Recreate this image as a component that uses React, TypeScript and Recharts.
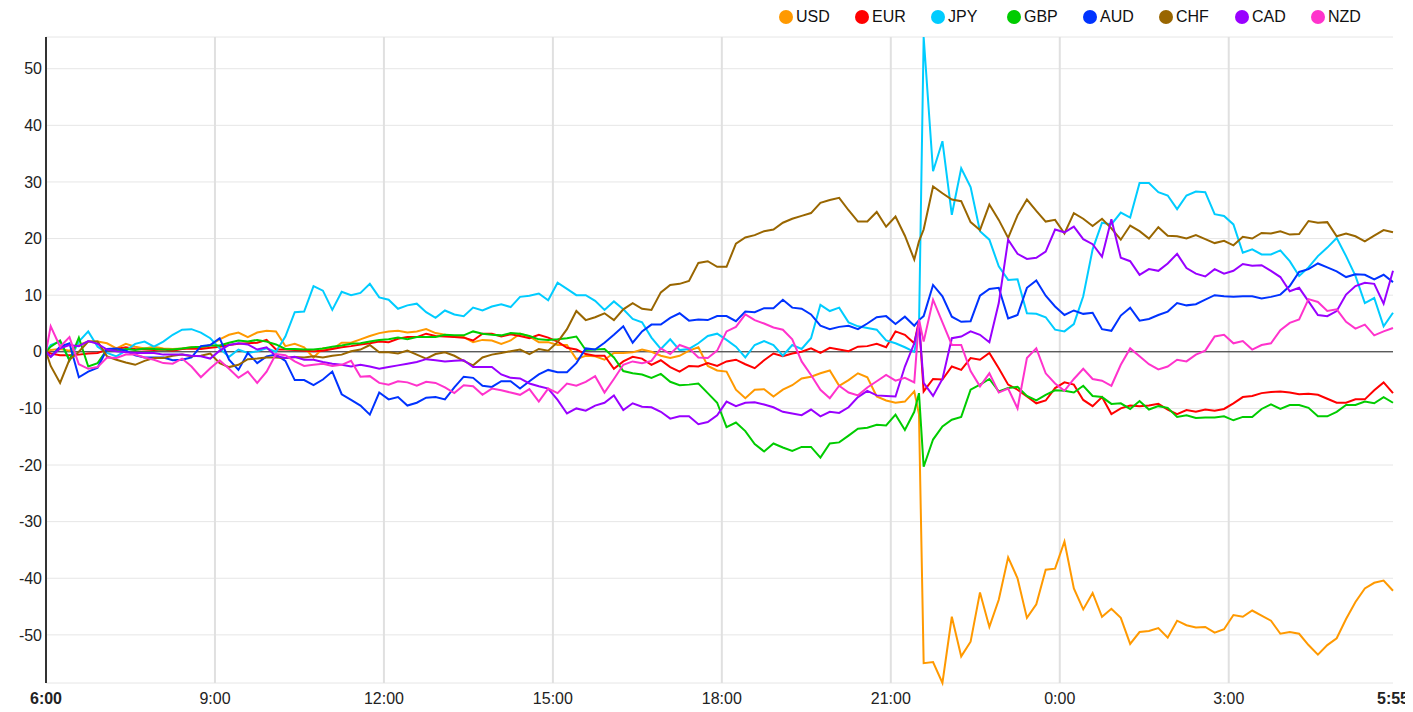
import React from "react";
import {
  LineChart,
  Line,
  XAxis,
  YAxis,
  CartesianGrid,
  ReferenceLine,
  Legend,
} from "recharts";

// minutes after 6:00 (10 min steps, plus the 21:30 print)
const MINUTES: number[] = [0];
for (let m = 5; m <= 1435; m += 10) {
  MINUTES.push(m);
  if (m === 925) MINUTES.push(930);
}

const USD = [
  0,
  0.3, 0.5, 0.2, 1.2, 1.8, 1.8,
  1.5, 0.6, 1.4, 0.9, 0.6, 0.9,
  0.6, 0.5, 0.6, 0.8, 0.6, 1.2,
  2.2, 3.0, 3.4, 2.6, 3.4, 3.7,
  3.6, 1.0, 1.4, 0.8, -1.0, 0.6,
  0.5, 1.6, 1.6, 2.2, 2.8, 3.3,
  3.6, 3.7, 3.4, 3.6, 4.0, 3.3,
  3.0, 2.6, 2.6, 1.7, 2.1, 2.0,
  1.4, 2.0, 3.2, 2.7, 1.7, 1.7,
  1.2, 1.2, -1.3, -0.7, -0.8, -1.4,
  -0.2, -0.2, -0.1, 0.4, 0, -0.7,
  -1.1, -0.7, 0.2, 0.8, -2.5, -3.3,
  -3.5, -6.7, -8.2, -6.7, -6.6, -7.9,
  -6.7, -5.9, -4.7, -4.4, -3.8, -3.3,
  -6.0, -5.0, -3.8, -4.5, -7.9, -8.6,
  -9.0, -8.8, -7.0, -11.0, -55.0, -54.8, -58.5,
  -46.8, -53.8, -51.2, -42.5, -48.6, -43.8,
  -36.3, -40.0, -47.0, -44.6, -38.5, -38.3,
  -33.5, -41.8, -45.5, -42.6, -46.8, -45.4,
  -47.0, -51.6, -49.5, -49.3, -48.8, -50.5,
  -47.5, -48.3, -48.7, -48.6, -49.6, -49.0,
  -46.5, -46.8, -45.7, -46.6, -47.5, -49.8,
  -49.5, -49.8, -51.8, -53.5, -51.8, -50.6,
  -47.2, -44.2, -41.8, -40.8, -40.4, -42.2,
];

const EUR = [
  0,
  -0.3, -0.6, -0.6, -0.5, -0.3, -0.2,
  0.4, 0.5, 0.8, 0.5, 0.4, 0.3,
  0.4, 0.2, 0.5, 0.6, 0.5, 0.7,
  0.9, 1.2, 1.4, 1.5, 1.6, 2.1,
  0.4, 0.4, 0.3, 0.2, 0.1, 0.2,
  0.5, 0.8, 1.0, 1.3, 1.5, 1.8,
  1.7, 2.3, 2.6, 2.6, 3.2, 2.8,
  2.7, 2.6, 2.5, 2.0, 3.2, 3.2,
  2.7, 3.1, 2.8, 2.4, 3.0, 2.5,
  1.8, 0.7, 0.4, -0.4, -0.7, -0.7,
  -3.0, -1.7, -0.9, -1.2, -2.3, -1.5,
  -2.7, -3.5, -2.5, -2.6, -2.0, -2.5,
  -1.7, -1.4, -2.2, -2.9, -1.5, -0.3,
  -0.8, -0.3, 0.0, 0.6, -0.2, 0.7,
  0.4, 0.1, 0.9, 1.0, 1.4, 0.8,
  3.6, 3.0, 1.5, 5.5, -7.0, -4.8, -4.9,
  -2.6, -3.2, -1.1, -1.4, -0.2, -2.9,
  -5.8, -6.7, -7.9, -9.1, -8.6, -6.4,
  -5.4, -5.8, -8.5, -9.6, -8.0, -11.0,
  -10.0, -9.5, -9.6, -9.5, -9.2, -10.2,
  -11.0, -10.3, -10.6, -10.2, -10.4, -10.1,
  -9.1, -8.0, -7.8, -7.3, -7.1, -7.0,
  -7.2, -7.5, -7.4, -7.6, -8.3, -9.0,
  -9.0, -8.4, -8.4, -6.8, -5.4, -7.3,
];

const JPY = [
  0,
  1.2, 1.8, -1.5, 1.8, 3.6, 0.9,
  -0.2, -0.8, 0.2, 1.4, 1.8, 0.9,
  1.8, 3.0, 3.9, 4.0, 3.4, 2.4,
  0.6, -0.9, 0.4, -0.2, 0.1, 0.6,
  0.0, 2.7, 7.0, 7.1, 11.6, 10.8,
  7.4, 10.6, 10.0, 10.4, 12.0, 9.6,
  9.2, 7.6, 8.2, 8.5, 7.0, 6.0,
  7.3, 6.6, 6.3, 7.8, 7.3, 8.0,
  8.4, 7.9, 9.7, 9.9, 10.3, 9.1,
  12.2, 11.1, 10.0, 10.0, 9.0, 7.4,
  8.9, 7.5, 5.8, 5.2, 2.5, 0.5,
  2.2, 0.3, 0.5, 1.5, 2.8, 3.2,
  2.1, 0.9, -1.0, 1.2, 1.9, 1.2,
  -0.7, 1.2, 0.5, 2.4, 8.3, 7.2,
  7.8, 5.2, 4.5, 4.2, 3.9, 2.0,
  1.5, 0.8, 0, 4.0, 55.6, 31.9, 37.2,
  24.2, 32.4, 29.1, 21.3, 19.8, 15.1,
  12.7, 12.8, 6.8, 6.7, 6.1, 3.9,
  3.6, 4.9, 9.8, 18.1, 22.8, 22.5,
  24.6, 23.7, 29.8, 29.8, 28.2, 27.6,
  25.2, 27.6, 28.3, 28.2, 24.3, 24.0,
  22.5, 17.5, 18.1, 17.2, 17.2, 17.9,
  16.0, 13.4, 14.9, 16.9, 18.4, 20.1,
  16.9, 13.4, 8.6, 9.5, 4.5, 6.9,
];

const GBP = [
  0,
  0.9, 2.0, -1.5, 2.5, -2.6, -2.0,
  0.4, 0.2, 0.5, 0.3, 0.6, 0.5,
  0.4, 0.4, 0.6, 0.8, 0.9, 1.1,
  1.1, 1.6, 2.0, 1.8, 2.1, 1.8,
  1.3, 0.5, 0.5, 0.4, 0.4, 0.6,
  0.9, 1.1, 1.4, 1.5, 1.8, 2.1,
  2.2, 2.5, 2.2, 2.6, 2.6, 2.6,
  3.0, 2.9, 2.9, 3.6, 3.2, 3.0,
  2.9, 3.3, 3.2, 2.8, 2.2, 2.1,
  2.2, 2.4, 2.7, 0.3, 0.4, 0.5,
  -1.0, -3.4, -3.8, -4.0, -4.6, -3.9,
  -5.3, -5.9, -5.8, -5.6, -7.3, -9.0,
  -13.3, -12.5, -14.0, -16.3, -17.6, -16.2,
  -16.9, -17.5, -16.8, -16.8, -18.7, -16.2,
  -16.0, -14.8, -13.6, -13.4, -12.9, -13.0,
  -11.1, -13.8, -10.6, -7.3, -20.3, -15.5, -13.2,
  -12.0, -11.5, -6.7, -5.8, -4.8, -7.0,
  -6.4, -6.2, -7.8, -8.6, -7.6, -6.8,
  -6.9, -7.2, -6.0, -7.8, -8.0, -9.2,
  -9.1, -10.1, -8.7, -10.2, -9.6, -9.9,
  -11.5, -11.2, -11.7, -11.6, -11.6, -11.4,
  -12.1, -11.5, -11.5, -10.1, -9.3, -10.1,
  -9.4, -9.4, -9.9, -11.4, -11.4, -10.6,
  -9.4, -9.4, -8.8, -9.1, -8.0, -9.0,
];

const AUD = [
  0,
  -0.9, 0.9, 1.5, -4.5, -3.5, -2.8,
  0.5, 0.6, 0.2, -0.6, -1.0, -1.0,
  -1.0, -1.5, -1.4, -1.0, 1.0, 1.2,
  2.4, -1.4, -3.2, -0.2, -2.0, -0.8,
  -0.5, -1.6, -5.0, -5.0, -5.9, -4.9,
  -3.5, -7.5, -8.5, -9.5, -11.1, -7.2,
  -8.4, -8.0, -9.5, -9.0, -8.1, -8.0,
  -8.4, -6.3, -4.4, -4.6, -6.0, -6.2,
  -5.2, -5.2, -6.5, -5.2, -4.0, -3.2,
  -3.6, -3.6, -2.0, 0.6, 0.4, 1.6,
  3.0, 4.5, 1.6, 3.6, 4.8, 4.8,
  6.0, 6.8, 5.5, 5.7, 5.6, 6.3,
  6.3, 5.4, 7.1, 7.0, 7.7, 7.7,
  9.2, 7.8, 7.6, 6.6, 4.6, 4.0,
  4.4, 4.6, 4.0, 5.0, 6.1, 6.3,
  4.9, 6.2, 4.6, 5.6, 6.3, 11.8, 9.8,
  6.2, 5.3, 5.4, 9.9, 11.1, 11.3,
  5.9, 6.5, 11.3, 12.6, 9.9, 8.0,
  6.5, 7.3, 6.7, 6.9, 4.0, 3.7,
  6.4, 7.8, 5.5, 5.8, 6.5, 7.1,
  8.6, 8.2, 8.4, 9.2, 10.0, 9.8,
  9.7, 9.8, 9.8, 9.4, 9.7, 10.1,
  11.6, 14.1, 14.6, 15.6, 14.9, 14.2,
  13.2, 13.7, 13.6, 12.8, 13.6, 12.3,
];

const CHF = [
  0,
  -2.5, -5.5, -1.4, 0, 1.8, 1.8,
  -0.8, -1.4, -1.9, -2.3, -1.6, -1.1,
  -1.1, -0.7, -0.5, -0.8, -0.7, -0.3,
  -2.0, -2.7, -2.3, -1.3, -1.2, -1.0,
  -1.0, -1.1, -0.9, -1.0, -0.8, -1.0,
  -0.7, -0.5, 0.1, 0.4, 1.2, -0.1,
  -0.1, -0.3, 0.2, -0.5, -1.2, -0.4,
  -0.1, -0.7, -1.6, -2.4, -1.0, -0.5,
  -0.2, 0.1, 0.4, -0.4, 0.5, 0.2,
  1.7, 4.0, 7.2, 5.6, 6.1, 6.8,
  5.6, 7.5, 8.6, 7.6, 7.4, 10.5,
  11.8, 12.0, 12.5, 15.7, 16.0, 15.0,
  15.0, 19.1, 20.2, 20.6, 21.3, 21.6,
  22.8, 23.5, 24.0, 24.5, 26.3, 26.8,
  27.2, 25.0, 23.0, 23.0, 24.7, 22.1,
  23.9, 20.5, 16.3, 19.5, 21.6, 29.2, 28.0,
  26.9, 26.6, 22.9, 21.5, 26.0, 23.3,
  20.1, 24.1, 26.9, 24.9, 23.0, 23.3,
  20.9, 24.5, 23.5, 22.2, 23.5, 21.8,
  19.8, 22.3, 21.3, 20.0, 22.0, 20.5,
  20.4, 20.0, 20.6, 19.9, 19.2, 19.6,
  18.8, 20.3, 20.0, 21.0, 20.9, 21.3,
  20.7, 20.8, 23.1, 22.8, 22.9, 20.4,
  20.9, 20.4, 19.5, 20.5, 21.5, 21.1,
];

const CAD = [
  0,
  -0.9, 0.6, 1.2, 1.0, 1.9, 1.4,
  0.4, 0.1, -0.1, -0.2, -0.2, -0.2,
  -0.5, -0.5, -0.5, -0.7, -0.8, -1.2,
  0.2, 1.2, 1.5, 1.3, 0.4, 0.8,
  -0.8, -1.1, -0.9, -1.4, -1.4, -1.8,
  -2.1, -2.3, -2.6, -2.3, -2.6, -3.0,
  -2.7, -2.4, -2.1, -1.8, -1.3, -1.5,
  -1.7, -1.6, -1.5, -2.7, -2.7, -2.7,
  -4.0, -4.6, -4.7, -5.6, -6.1, -6.5,
  -8.5, -10.9, -10.0, -10.4, -9.5, -9.0,
  -7.7, -10.3, -9.1, -9.7, -9.8, -10.6,
  -11.8, -11.4, -11.4, -12.8, -12.4, -11.2,
  -8.8, -9.6, -9.0, -8.9, -9.3, -9.8,
  -10.6, -10.9, -11.2, -10.2, -11.4, -10.6,
  -10.8, -9.8, -8.0, -6.9, -7.7, -7.8,
  -7.9, -2.6, 1.5, 5.0, -5.5, -7.8, -4.8,
  2.4, 2.7, 3.6, 3.0, 1.7, 8.6,
  19.8, 17.3, 16.4, 16.6, 17.7, 21.6,
  21.1, 22.1, 19.9, 19.0, 16.8, 23.4,
  16.6, 16.0, 13.6, 14.6, 14.3, 15.6,
  17.3, 14.8, 13.8, 13.3, 14.6, 13.8,
  14.3, 15.5, 15.2, 15.3, 14.3, 13.2,
  10.7, 11.3, 8.9, 6.5, 6.3, 7.2,
  10.1, 11.6, 12.2, 12.0, 8.5, 14.3,
];

const NZD = [
  0,
  4.5, 0.9, 2.6, -2.2, -3.0, -2.7,
  -1.0, -1.1, -0.5, -0.5, -1.0, -1.4,
  -2.0, -2.1, -1.2, -2.6, -4.5, -2.9,
  -1.5, -3.0, -4.6, -3.5, -5.5, -3.5,
  -0.4, -0.6, -1.7, -2.5, -2.3, -2.1,
  -2.5, -2.3, -1.6, -4.4, -4.3, -5.5,
  -5.8, -5.2, -5.4, -6.0, -5.3, -5.5,
  -6.3, -7.3, -5.9, -6.1, -7.6, -6.5,
  -6.8, -7.2, -7.6, -6.6, -8.8, -6.5,
  -7.3, -5.6, -6.0, -5.3, -4.3, -7.2,
  -4.8, -2.3, -1.7, -2.0, -1.6, 0.6,
  -0.4, 1.2, 0.6, -1.0, -1.1, 0.2,
  3.6, 4.4, 6.6, 5.6, 5.0, 4.3,
  3.9, 2.2, -1.7, -4.1, -6.7, -8.2,
  -6.0, -7.2, -7.7, -6.3, -5.2, -4.1,
  -5.1, -4.6, -5.4, 5.7, 1.8, 9.2, 5.2,
  1.2, 1.2, -3.4, -6.1, -3.8, -7.2,
  -6.5, -10.0, -1.1, 0.6, -3.8, -5.6,
  -6.9, -4.8, -3.0, -4.8, -5.1, -6.0,
  -2.3, 0.6, -0.8, -2.2, -3.1, -2.6,
  -1.4, -1.7, -0.5, 0.2, 2.7, 3.0,
  1.5, 1.9, 0.4, 1.2, 1.5, 3.8,
  5.1, 5.7, 9.3, 8.8, 7.2, 7.5,
  5.3, 4.1, 4.8, 2.9, 3.6, 4.2,
];

const CURRENCIES = ["USD", "EUR", "JPY", "GBP", "AUD", "CHF", "CAD", "NZD"];
const COLORS = ["#ff9900", "#ff0000", "#00ccff", "#00cc00", "#0033ff", "#996600", "#9900ff", "#ff33cc"];
const VALUES = [USD, EUR, JPY, GBP, AUD, CHF, CAD, NZD];

const X_TICKS = [0, 180, 360, 540, 720, 900, 1080, 1260, 1435];
const X_LABELS = ["6:00", "9:00", "12:00", "15:00", "18:00", "21:00", "0:00", "3:00", "5:55"];
const Y_TICKS = [-50, -40, -30, -20, -10, 0, 10, 20, 30, 40, 50];

const data = MINUTES.map((t, i) => {
  const row: Record<string, number> = { t };
  CURRENCIES.forEach((c, k) => {
    row[c] = VALUES[k][i];
  });
  return row;
});

const FONT = "Arial, 'Liberation Sans', Helvetica, sans-serif";

const TimeTick = (props: any) => {
  const { x, y, payload } = props;
  const i = X_TICKS.indexOf(payload.value);
  const edge = i === 0 || i === X_TICKS.length - 1;
  return (
    <text
      x={x}
      y={y}
      dy={21}
      textAnchor="middle"
      fontSize={16}
      fontFamily={FONT}
      fontWeight={edge ? 700 : 400}
      fill="#222"
    >
      {X_LABELS[i]}
    </text>
  );
};

// keep the legend in the series order, not alphabetical
const LegendRow = (props: any) => {
  const entries = [...(props.payload || [])].sort(
    (a: any, b: any) => CURRENCIES.indexOf(a.value) - CURRENCIES.indexOf(b.value)
  );
  return (
    <div
      style={{
        display: "flex",
        justifyContent: "flex-end",
        paddingRight: 26,
        height: 16,
        fontFamily: FONT,
        fontSize: 16,
        lineHeight: "16px",
        color: "#111",
      }}
    >
      {entries.map((entry: any) => (
        <div
          key={entry.value}
          style={{ width: 76, display: "flex", alignItems: "center" }}
        >
          <span
            style={{
              display: "inline-block",
              width: 14,
              height: 14,
              borderRadius: 7,
              background: entry.color,
              marginRight: 3,
            }}
          />
          <span>{entry.value}</span>
        </div>
      ))}
    </div>
  );
};

const App = () => {
  return (
    <div style={{ fontFamily: FONT, height: 696 }}>
      <LineChart
        width={1405}
        height={704}
        data={data}
        margin={{ top: 13, right: 20, bottom: 0, left: 0 }}
      >
        <CartesianGrid vertical={false} stroke="#e6e6e6" />
        {X_TICKS.slice(1, -1).map((m) => (
          <ReferenceLine key={m} x={m} stroke="#e0e0e0" strokeWidth={2} />
        ))}
        <ReferenceLine y={0} stroke="#222" strokeWidth={1} />
        <XAxis
          dataKey="t"
          type="number"
          domain={[0, 1435]}
          ticks={X_TICKS}
          interval={0}
          axisLine={false}
          tickLine={false}
          tickSize={0}
          tickMargin={0}
          height={29}
          tick={<TimeTick />}
        />
        <YAxis
          width={38}
          domain={["dataMin", "dataMax"]}
          ticks={Y_TICKS}
          interval={0}
          tickLine={false}
          tickSize={0}
          tickMargin={4}
          axisLine={{ stroke: "#333", strokeWidth: 2 }}
          tick={{ fontSize: 16, fill: "#222", fontFamily: FONT }}
        />
        <Legend
          verticalAlign="top"
          align="right"
          content={<LegendRow />}
          wrapperStyle={{ top: 1, left: 0, right: "auto", width: 1405, height: 16 }}
        />
        {CURRENCIES.map((c, k) => (
          <Line
            key={c}
            type="linear"
            dataKey={c}
            stroke={COLORS[k]}
            strokeWidth={2}
            dot={false}
            isAnimationActive={false}
          />
        ))}
      </LineChart>
    </div>
  );
};

export default App;
